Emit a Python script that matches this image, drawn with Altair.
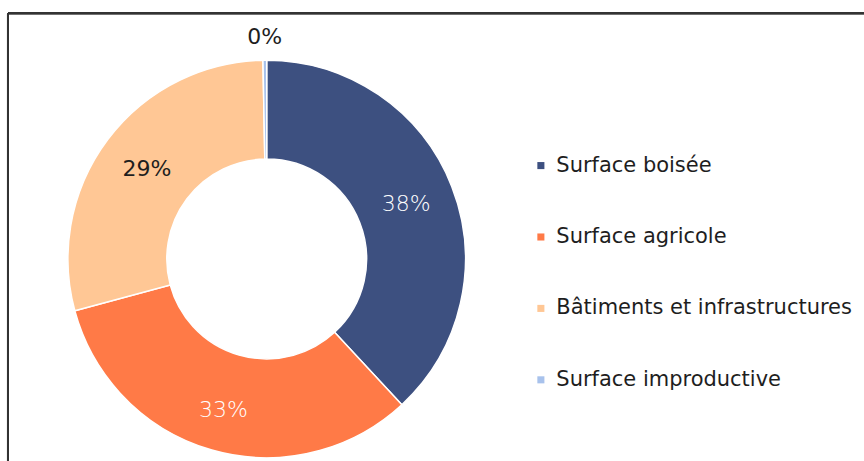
import altair as alt
import pandas as pd

categories = ["Surface boisée", "Surface agricole", "Bâtiments et infrastructures", "Surface improductive"]
values = [38.1, 32.7, 28.9, 0.3]
labels = ["38%", "33%", "29%", "0%"]
colors = ["#3D5080", "#FF7A47", "#FFC795", "#A8C2EC"]
order = [0, 1, 2, 3]

df = pd.DataFrame({"cat": categories, "value": values, "label": labels, "idx": order})

W, H = 857, 448
CX, CY = 259, 246
FONT = "DejaVu Sans"

color = alt.Color(
    "cat:N",
    scale=alt.Scale(domain=categories, range=colors),
    sort=categories,
    legend=alt.Legend(
        title=None,
        orient="none",
        legendX=523,
        legendY=142,
        symbolType="square",
        symbolSize=50,
        symbolStrokeWidth=0,
        labelFontSize=21,
        labelFont=FONT,
        labelColor="#1e1e1e",
        labelOffset=5,
        rowPadding=49.5,
        labelLimit=400,
    ),
)

base = alt.Chart(df)

arcs = base.mark_arc(
    innerRadius=100, outerRadius=199, stroke="white", strokeWidth=1.5
).encode(
    theta=alt.Theta("value:Q", stack=True),
    color=color,
    order=alt.Order("idx:Q"),
    x=alt.value(CX),
    y=alt.value(CY),
)

stacked = base.transform_window(
    v1="sum(value)", sort=[alt.SortField("idx")], frame=[None, 0]
).transform_calculate(mid="datum.v1 - datum.value / 2")

def label_layer(names, radius, col, weight):
    return stacked.transform_filter(
        alt.FieldOneOfPredicate(field="cat", oneOf=names)
    ).mark_text(
        font=FONT, fontSize=22, fontWeight=weight, radius=radius, color=col
    ).encode(
        theta=alt.Theta("mid:Q", stack=None),
        text="label:N",
        x=alt.value(CX),
        y=alt.value(CY),
    )

t_white1 = label_layer(["Surface boisée"], 150, "white", 200)
t_white2 = label_layer(["Surface agricole"], 157, "white", 200)
t_dark = label_layer(["Bâtiments et infrastructures"], 150, "#1e1e1e", 400)
t_out = label_layer(["Surface improductive"], 222, "#1e1e1e", 400)

frame_top = alt.Chart(df).mark_rule(color="#333333", strokeWidth=2).encode(
    x=alt.value(0), x2=alt.value(W + 10), y=alt.value(0)
)
frame_left = alt.Chart(df).mark_rule(color="#333333", strokeWidth=2).encode(
    x=alt.value(0), y=alt.value(0), y2=alt.value(H + 10)
)

chart = alt.layer(frame_top, frame_left, arcs, t_white1, t_white2, t_dark, t_out).properties(
    width=W,
    height=H,
    padding={"left": 8, "top": 13, "right": 0, "bottom": 0},
    autosize=alt.AutoSizeParams(type="none"),
    background="white",
).configure_view(stroke=None)

chart.save("out.html", embed_options={"renderer": "svg", "actions": False})
